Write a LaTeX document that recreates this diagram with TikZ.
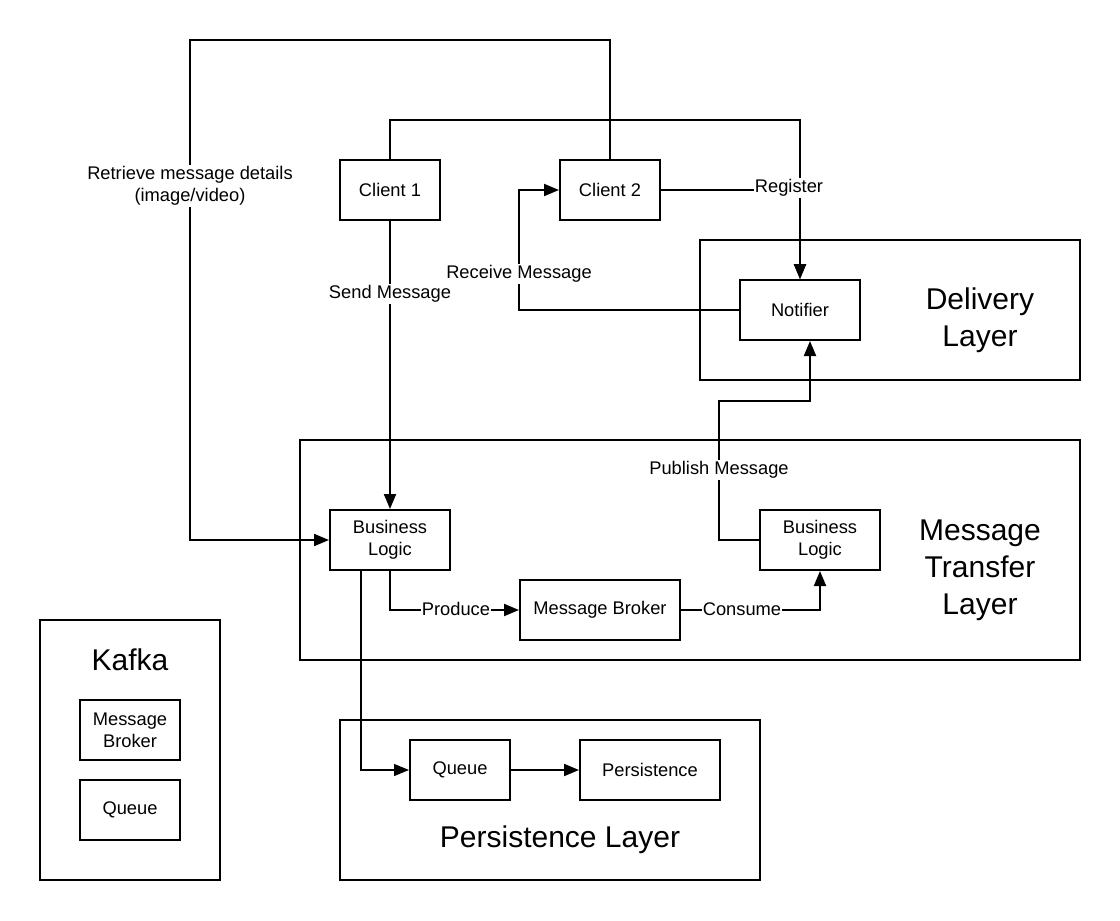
\documentclass[tikz,border=0pt]{standalone}
\usepackage{fontspec}
\setmainfont{Liberation Sans}
\usetikzlibrary{arrows.meta}
\begin{document}
\begin{tikzpicture}[x=1pt,y=-1pt,
  box/.style={draw, line width=2pt, minimum width=#1, minimum height=60pt, inner sep=0pt, align=center, font=\fontsize{18.3}{22}\selectfont},
  box/.default=120pt,
  layer/.style={draw, line width=2pt, inner sep=0pt},
  title/.style={font=\fontsize{30}{37}\selectfont, align=center},
  conn/.style={line width=2pt, -{Triangle[length=15pt,width=12pt]}},
  thinconn/.style={line width=1.2pt, -{Triangle[length=15pt,width=12pt]}},
  lbl/.style={fill=white, inner sep=1pt, font=\fontsize{18.3}{22}\selectfont, align=center}
]
\useasboundingbox[fill=white] (0,0) rectangle (1120,921);

% layers
\node[layer, minimum width=380pt, minimum height=140pt] (dl) at (890,310) {};
\node[layer, minimum width=780pt, minimum height=220pt] (ml) at (690,550) {};
\node[layer, minimum width=180pt, minimum height=260pt] (kl) at (130,750) {};
\node[layer, minimum width=420pt, minimum height=160pt] (pl) at (550,800) {};

\node[title] (dlt) at (980,320) {Delivery\\Layer};
\node[title] (mlt) at (980,570) {Message\\Transfer\\Layer};
\node[title] (klt) at (130,660) {Kafka};
\node[title] (plt) at (560,840) {Persistence Layer};

% boxes
\node[box=100pt] (c1) at (390,190) {Client 1};
\node[box=100pt] (c2) at (610,190) {Client 2};
\node[box] (nt) at (800,310) {Notifier};
\node[box] (bl1) at (390,540) {Business\\Logic};
\node[box] (bl2) at (820,540) {Business\\Logic};
\node[box=160pt] (mb) at (600,610) {Message Broker};
\node[box=100pt] (q) at (460,770) {Queue};
\node[box=140pt] (p) at (650,770) {Persistence};
\node[box=100pt] (kmb) at (130,730) {Message\\Broker};
\node[box=100pt] (kq) at (130,810) {Queue};

% connectors
\draw[conn] (c2.north) |- (190,40) |- (bl1.west);
\node[lbl] (lret) at (190,186) {Retrieve message details\\(image/video)};

\draw[conn] (c1.north) |- (800,120) -- (nt.north);
\draw[conn] (c2.east) -| (nt.north);
\node[lbl] (lreg) at (789,188) {Register};

\draw[conn] (nt.west) -| (519,190) -- (c2.west);
\node[lbl] (lrec) at (519,274) {Receive Message};

\draw[conn] (c1.south) -- (bl1.north);
\node[lbl] (lsend) at (390,294) {Send Message};

\draw[conn] (bl2.west) -| (719,401) -| ([xshift=10pt]nt.south);
\node[lbl] (lpub) at (719,470) {Publish Message};

\draw[conn] (bl1.south) |- (mb.west);
\node[lbl] (lprod) at (456,609) {Produce};

\draw[conn] (mb.east) -| (bl2.south);
\node[lbl] (lcons) at (742,609) {Consume};

\draw[thinconn] ([xshift=-29pt]bl1.south) |- (q.west);
\draw[conn] (q.east) -- (p.west);
\end{tikzpicture}
\end{document}
